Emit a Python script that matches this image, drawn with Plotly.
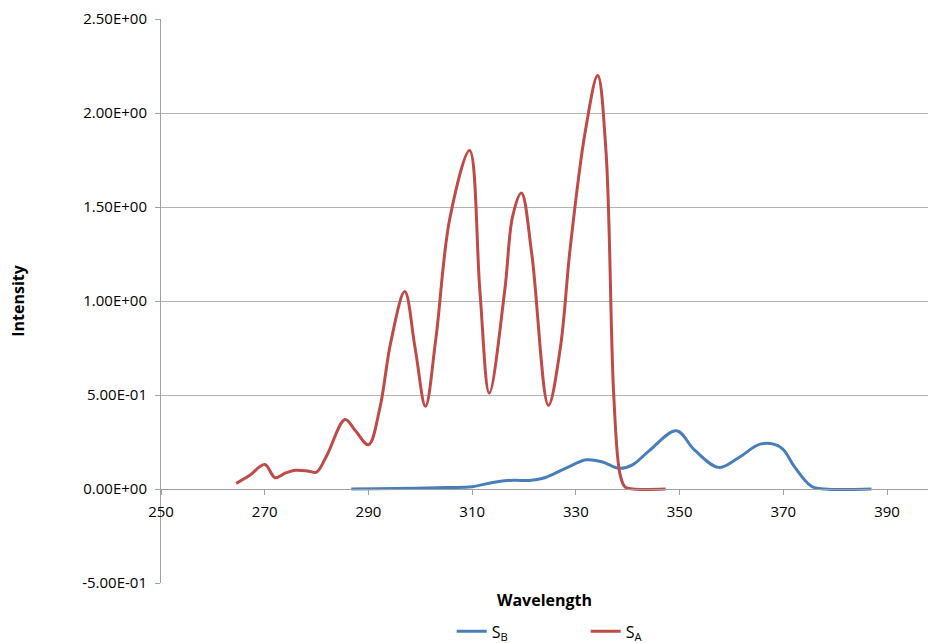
import plotly.graph_objects as go

# S_A (red) series
sa_wavelength = [264.5, 267, 270, 272, 274, 276, 278.5, 280, 282, 285.5, 287.5, 290, 292.2,
                 294.3, 297, 299, 301, 303, 305.7, 309.5, 311.5, 313.3, 316.3, 317.8, 319.5,
                 321.5, 324.7, 327, 328.9, 331.8, 334.2, 335.8, 337.3, 338.5, 339.5, 341, 347.3]
sa_intensity = [0.03, 0.07, 0.13, 0.06, 0.085, 0.10, 0.095, 0.09, 0.18, 0.37, 0.31, 0.235, 0.43,
                0.78, 1.05, 0.75, 0.44, 0.80, 1.44, 1.80, 1.05, 0.51, 1.06, 1.45, 1.575,
                1.25, 0.445, 0.75, 1.28, 1.90, 2.20, 1.80, 0.50, 0.08, 0.01, 0.0, 0.0]

# S_B (blue) series
sb_wavelength = [286.7, 295, 305, 310, 314, 318, 321, 324, 328, 332, 335, 338.4, 341, 344,
                 349.4, 352.8, 357.5, 361.3, 365.7, 369.6, 372.1, 375.4, 378, 387]
sb_intensity = [0.0, 0.002, 0.008, 0.012, 0.035, 0.047, 0.045, 0.06, 0.11, 0.155, 0.145, 0.11,
                0.13, 0.2, 0.31, 0.21, 0.115, 0.165, 0.24, 0.22, 0.12, 0.015, 0.0, 0.0]

x_ticks = [250, 270, 290, 310, 330, 350, 370, 390]
y_ticks = [-0.5, 0.0, 0.5, 1.0, 1.5, 2.0, 2.5]
y_labels = ["-5.00E-01", "0.00E+00", "5.00E-01", "1.00E+00", "1.50E+00", "2.00E+00", "2.50E+00"]

BLUE = "#4A7EBB"
RED = "#BE4B48"
FONT = "Open Sans"

fig = go.Figure()
fig.add_trace(go.Scatter(x=sb_wavelength, y=sb_intensity, mode="lines", name="S<sub>B</sub>",
                         line=dict(color=BLUE, width=3, shape="spline", smoothing=1.0)))
fig.add_trace(go.Scatter(x=sa_wavelength, y=sa_intensity, mode="lines", name="S<sub>A</sub>",
                         line=dict(color=RED, width=3, shape="spline", smoothing=1.0)))

y_min, y_max = -0.5, 2.5
fig.update_layout(
    width=928, height=643,
    margin=dict(l=161, r=0, t=19, b=60, autoexpand=False),
    paper_bgcolor="white", plot_bgcolor="white",
    font=dict(family=FONT, size=15, color="#000000"),
    showlegend=True,
    legend=dict(orientation="h", x=0.379, xanchor="left", yref="container", y=0.018,
                yanchor="middle", entrywidth=89, entrywidthmode="pixels",
                font=dict(size=16), bgcolor="rgba(0,0,0,0)"),
    xaxis=dict(range=[250, 397.9], tickvals=x_ticks, ticks="outside", ticklen=5,
               tickcolor="#A0A0A0", showline=True, linecolor="#A0A0A0", linewidth=1,
               showgrid=False, zeroline=False, anchor="free",
               position=(0 - y_min) / (y_max - y_min), tickfont=dict(size=15),
               ticklabelstandoff=4,
               title=dict(text="<b>Wavelength</b>", standoff=74, font=dict(size=16))),
    yaxis=dict(range=[y_min, y_max], tickvals=y_ticks, ticktext=y_labels, ticks="outside",
               ticklen=5, tickcolor="#A0A0A0", showline=True, linecolor="#A0A0A0",
               linewidth=1, showgrid=True, gridcolor="#B3B3B3", gridwidth=1, zeroline=False,
               tickfont=dict(size=15), ticklabelstandoff=5,
               title=dict(text="<b>Intensity</b>", standoff=53, font=dict(size=16))),
)

fig.write_html("out.html")
